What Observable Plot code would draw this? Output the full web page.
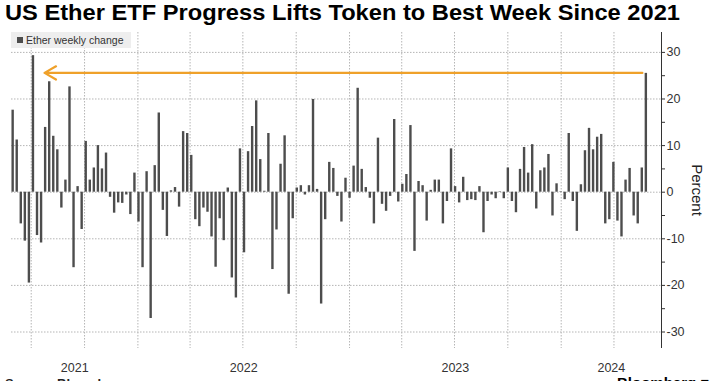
<!DOCTYPE html>
<html>
<head>
<meta charset="utf-8">
<script src="https://cdn.jsdelivr.net/npm/d3@7"></script>
<script src="https://cdn.jsdelivr.net/npm/@observablehq/plot@0.6"></script>
<style>
  html, body { margin: 0; padding: 0; background: #fff; }
  #wrap { position: relative; width: 714px; height: 381px; overflow: hidden; font-family: "Liberation Sans", Arial, sans-serif; }
  #title { position: absolute; left: 5px; top: 2px; font-weight: bold; font-size: 22px; line-height: 22px; white-space: nowrap; transform-origin: 0 0; color: #000; }
  #chart { position: absolute; left: 0; top: 0; }
  #legend { position: absolute; left: 11px; top: 32px; width: 120px; height: 16px; background: #eeeeee; }
  #legend .sw { position: absolute; left: 6px; top: 5px; width: 6px; height: 6px; background: #4d4d4d; }
  #legend .lb { position: absolute; left: 15px; top: 2px; font-size: 10.5px; line-height: 12px; color: #333; white-space: nowrap; }
  #ylabel { position: absolute; left: 697px; top: 190px; font-size: 15px; color: #222; white-space: nowrap; transform: translate(-50%, -50%) rotate(90deg); }
  #source { position: absolute; left: 5px; top: 376px; font-size: 13px; font-weight: bold; color: #222; white-space: nowrap; }
  #brand { position: absolute; left: 617px; top: 374px; font-size: 15px; font-weight: bold; color: #000; white-space: nowrap; }
</style>
</head>
<body>
<div id="wrap">
  <div id="chart"></div>
  <div id="title">US Ether ETF Progress Lifts Token to Best Week Since 2021</div>
  <div id="legend"><div class="sw"></div><div class="lb">Ether weekly change</div></div>
  <div id="ylabel">Percent</div>
  <div id="source">Source: Bloomberg</div>
  <div id="brand">Bloomberg &#9632;</div>
</div>
<script>
// ---- data ----
const firstWeek = "2021-05-30";           // date of first weekly bar
const weeklyChange = [
  17.6, 11.2, -6.8, -10.5, -19.5, 29.3, -9.3, -10.9, 13.9, 23.7, 12.0, 9.1, -3.4, 2.6, 22.6, -16.2, 1.2, -8.0, 10.9, 2.6, 5.2, 10.0, 5.0, 8.4, -1.1, -4.5,
  -2.3, -2.4, -0.6, -4.8, 4.1, -6.4, -16.2, 4.4, -27.1, 5.7, 17.0, -3.9, -9.5, 0.3, 1.0, -3.2, 13.0, 12.6, 7.9, -5.9, -7.4, -3.4, -4.3, -9.6, -16.1, -5.7, -10.4,
  0.9, -18.4, -22.7, 9.3, -13.0, 8.7, 14.1, 19.6, 7.0, 0.2, 12.6, -16.6, -8.1, 6.0, 12.1, -21.9, -5.7, 0.9, 1.4, -0.6, 1.4, 19.9, 0.6, -24.0, -5.9, 6.4, 5.1,
  -0.9, -6.4, 3.0, -1.3, 5.6, 22.3, 4.9, 1.0, -1.3, -6.8, 11.6, -2.6, -4.1, -0.9, 15.6, -2.1, 1.7, 3.8, 14.3, -12.7, 2.3, 1.4, -6.2, 0.4, 2.6, 2.6, -6.8,
  -2.0, 9.3, 1.2, -2.3, 3.2, -1.8, -1.6, -1.8, 1.2, -8.7, -2.0, -0.6, -1.4, 0.1, -1.4, 5.2, -2.0, -4.4, 4.9, 9.6, 4.1, 10.2, -3.6, 4.6, 5.2, 8.1, -5.1,
  1.8, 0.1, -1.6, 12.6, -2.0, -8.4, 1.6, 8.9, 13.7, 9.1, 11.8, 12.4, -6.8, -5.9, 6.4, -6.2, -9.6, 2.6, 5.1, -5.1, -6.8, 5.2, 25.5
];
const xDomain = ["2021-05-28", "2024-06-22"];
const yDomain = [-33.54, 34.27];
const yTicks = [-30, -25, -20, -15, -10, -5, 0, 5, 10, 15, 20, 25, 30];
const yGrid = [-30, -20, -10, 0, 10, 20, 30];
const quarterTicks = ["2021-07-01","2021-10-01","2022-01-01","2022-04-01","2022-07-01","2022-10-01",
                      "2023-01-01","2023-04-01","2023-07-01","2023-10-01","2024-01-01","2024-04-01"];
const years = [2021, 2022, 2023, 2024];
const arrowStart = "2024-05-20";
const arrowEnd = "2021-07-24";
const arrowLevel = 25.6;

// ---- build ----
const parse = s => new Date(s + "T00:00:00Z");
const d0 = parse(firstWeek);
const data = weeklyChange.map((v, i) => ({ date: d3.utcDay.offset(d0, 7 * i), value: v }));
const dom = xDomain.map(parse);
const yearMids = years.map(y => {
  const a = Math.max(+dom[0], +Date.UTC(y, 0, 1));
  const b = Math.min(+dom[1], +Date.UTC(y + 1, 0, 1));
  return new Date((a + b) / 2);
});

const chart = Plot.plot({
  width: 714,
  height: 381,
  marginTop: 32,
  marginBottom: 33,
  marginLeft: 11,
  marginRight: 53,
  style: { fontFamily: "'Liberation Sans', Arial, sans-serif", background: "transparent", color: "#333" },
  x: { type: "utc", domain: dom },
  y: { domain: yDomain },
  marks: [
    Plot.gridY(yGrid, { stroke: "#b5b5b5", strokeOpacity: 1, strokeDasharray: "1.5,1.5" }),
    Plot.gridX(quarterTicks.map(parse), { stroke: "#b5b5b5", strokeOpacity: 1, strokeDasharray: "1.5,1.5" }),
    Plot.ruleX(data, { x: "date", y1: 0, y2: "value", stroke: "#4d4d4d", strokeWidth: 2.4 }),
    Plot.arrow([{ x1: parse(arrowStart), x2: parse(arrowEnd), y: arrowLevel }], {
      x1: "x1", x2: "x2", y1: "y", y2: "y",
      stroke: "#efa12a", strokeWidth: 2.2, headLength: 9, headAngle: 60
    }),
    Plot.ruleX([dom[1]], { stroke: "#333", strokeWidth: 1 }),
    Plot.axisY(yTicks, {
      anchor: "right", tickSize: 3, tickPadding: 2, label: null, fontSize: 12.5,
      tickFormat: d => (d % 10 === 0 ? String(d) : ""), stroke: "#333"
    }),
    Plot.axisX(yearMids, {
      anchor: "bottom", tickSize: 0, tickPadding: 15, label: null, fontSize: 12.5,
      tickFormat: d => String(d.getUTCFullYear())
    })
  ]
});
document.getElementById("chart").appendChild(chart);

// fit title width to the reference span
const t = document.getElementById("title");
const w = t.getBoundingClientRect().width;
t.style.transform = `scaleX(${675 / w})`;
</script>
</body>
</html>
